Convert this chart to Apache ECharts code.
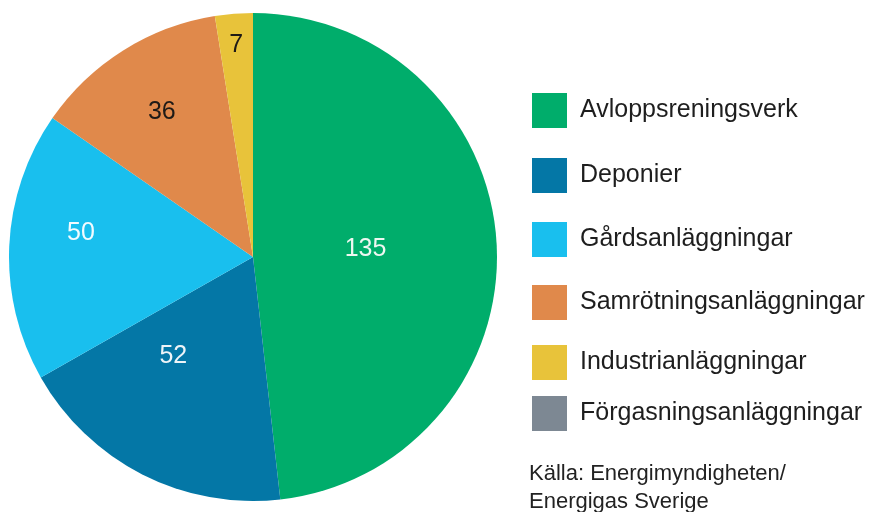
<!DOCTYPE html>
<html>
<head>
<meta charset="utf-8">
<script src="https://cdn.jsdelivr.net/npm/echarts@6/dist/echarts.min.js"></script>
<style>
  html, body { margin: 0; padding: 0; background: #fff; }
  #pie { width: 874px; height: 512px; }
</style>
</head>
<body>
<div id="pie"></div>
<script>
const categories = ['Avloppsreningsverk', 'Deponier', 'Gårdsanläggningar', 'Samrötningsanläggningar', 'Industrianläggningar', 'Förgasningsanläggningar']
const values = [135, 52, 50, 36, 7, 0]

const colors = ['#00ad6b', '#0477a6', '#19bfee', '#e0894b', '#e8c33a', '#7d8893']
const labelColors = ['#eef7f1', '#eef4f8', '#f2fbff', '#1f1a16', '#1f1a16', '#1f1a16']
// label placement: share of the radius and turn (degrees) from the slice middle
const labelDist = [0.45, 0.51, 0.70, 0.69, 0.86, 0.5]
const labelTurn = [-1, 12, 5.5, 0, 0, 0]
const legendTops = [93, 158, 222, 285, 345, 396]

const font = "'Liberation Sans', Arial, sans-serif"
const R = 244
const total = values.reduce((a, b) => a + b, 0)

const midAngle = (i) => {
  let before = 0
  for (let k = 0; k < i; k++) before += values[k]
  return (before + values[i] / 2) / total * 2 * Math.PI
}

const pie = echarts.init(document.getElementById('pie'))

const option = {
  animation: false,
  color: colors,
  title: {
    text: 'Källa: Energimyndigheten/\nEnergigas Sverige',
    left: 529,
    top: 460,
    padding: 0,
    textStyle: {
      fontFamily: font,
      fontSize: 22,
      fontWeight: 'normal',
      color: '#222',
      lineHeight: 28
    }
  },
  legend: categories.map((name, i) => ({
    data: [name],
    orient: 'vertical',
    left: 532,
    top: legendTops[i],
    padding: 0,
    itemWidth: 35,
    itemHeight: 35,
    icon: 'rect',
    selectedMode: false,
    textStyle: {
      fontFamily: font,
      fontSize: 25,
      color: '#1e1e1e',
      lineHeight: 35,
      padding: [0, 0, 0, 8]
    }
  })),
  series: [
    {
      type: 'pie',
      center: [253, 257],
      radius: R,
      startAngle: 90,
      clockwise: true,
      avoidLabelOverlap: false,
      itemStyle: {borderWidth: 0},
      label: {
        show: true,
        position: 'inside',
        formatter: '{c}',
        fontFamily: font,
        fontSize: 25
      },
      labelLine: {show: false},
      labelLayout: (params) => {
        const i = params.dataIndex
        const mid = midAngle(i)
        const a = mid + labelTurn[i] * Math.PI / 180
        const r = labelDist[i] * R
        const r0 = 0.5 * R
        return {
          dx: r * Math.sin(a) - r0 * Math.sin(mid),
          dy: -r * Math.cos(a) + r0 * Math.cos(mid)
        }
      },
      emphasis: {disabled: true},
      data: categories.map((name, i) => ({
        name: name,
        value: values[i],
        label: {color: labelColors[i], show: values[i] > 0}
      }))
    }
  ]
}

pie.setOption(option)
</script>
</body>
</html>
